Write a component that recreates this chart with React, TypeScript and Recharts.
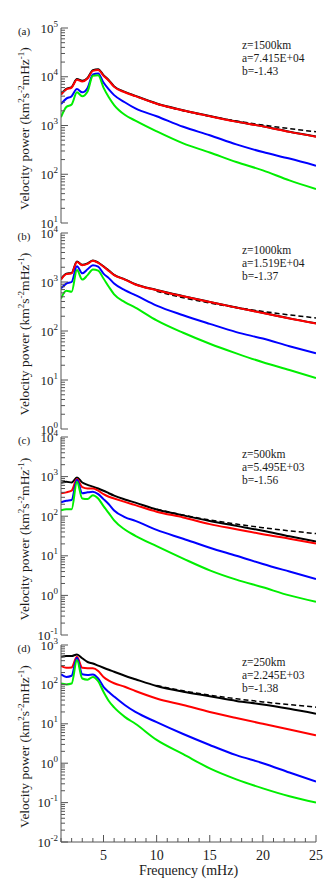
import React from 'react';
import { LineChart, Line, XAxis, YAxis } from 'recharts';

// ---------- data ----------
const freq = [1, 1.5, 2, 2.5, 3, 3.5, 4, 4.5, 5, 5.5, 6, 7, 8, 10, 12.5, 15, 17.5, 20, 22.5, 25];
const fitFreq = [10, 12.5, 15, 17.5, 20, 22.5, 25];

// (a) z=1500km
const aBlack = [4400, 5650, 6150, 8950, 8250, 9450, 13700, 14300, 10800, 8500, 6350, 4900, 4050, 2830, 2060, 1560, 1205, 965, 745, 595];
const aRed = [4300, 5500, 6000, 8700, 8000, 9200, 13200, 13800, 10500, 8300, 6200, 4800, 4000, 2800, 2040, 1550, 1200, 960, 740, 590];
const aBlue = [2750, 3550, 4000, 5600, 4800, 5900, 11200, 11700, 7600, 5500, 4200, 3000, 2240, 1550, 940, 630, 410, 285, 210, 150];
const aGreen = [1480, 2400, 2700, 4800, 4000, 5000, 10500, 10700, 6000, 3800, 2630, 1660, 1260, 760, 430, 280, 178, 120, 75, 50];
const aFit = [2755, 2002, 1542, 1238, 1022, 863, 743];

// (b) z=1000km
const bBlack = [1150, 1480, 1530, 2620, 2240, 2400, 2760, 2500, 2090, 1710, 1400, 1135, 900, 688, 515, 393, 302, 235, 181, 143];
const bRed = [1120, 1450, 1500, 2570, 2200, 2350, 2700, 2450, 2050, 1680, 1380, 1120, 890, 680, 510, 390, 300, 233, 180, 142];
const bBlue = [740, 930, 1000, 2100, 1500, 1820, 2200, 2050, 1480, 1200, 930, 680, 540, 330, 210, 140, 95, 70, 49, 35];
const bGreen = [460, 660, 630, 1750, 1120, 1380, 1800, 1700, 1180, 800, 560, 390, 300, 165, 92, 55, 35, 23, 16, 11];
const bFit = [648, 477, 372, 301, 251, 213, 185];

// (c) z=500km
const cBlack = [700, 740, 710, 950, 710, 620, 560, 500, 440, 380, 330, 265, 220, 148, 105, 76, 57, 43, 31, 23];
const cRed = [380, 400, 440, 870, 540, 500, 500, 440, 360, 310, 280, 230, 190, 130, 93, 63, 47, 35, 27, 20.5];
const cBlue = [225, 245, 257, 830, 380, 400, 415, 360, 270, 200, 140, 95, 76, 45, 27, 16, 10, 6.2, 4, 2.6];
const cGreen = [140, 150, 150, 740, 280, 270, 340, 280, 180, 120, 78, 46, 32, 17.5, 8.5, 4.3, 2.5, 1.6, 1.0, 0.69];
const cFit = [151, 107, 80.4, 63.2, 51.4, 42.7, 36.3];

// (d) z=250km
const dBlack = [500, 525, 525, 575, 460, 370, 340, 300, 265, 235, 210, 166, 135, 91, 65, 50, 38, 31, 24, 18];
const dRed = [295, 263, 270, 500, 263, 257, 257, 220, 155, 125, 107, 87, 68, 44, 30, 20, 14, 10, 7.2, 5.1];
const dBlue = [180, 155, 166, 475, 180, 174, 178, 141, 87, 64, 49, 30, 20, 11, 5.5, 2.9, 1.6, 1.0, 0.58, 0.34];
const dGreen = [105, 100, 105, 415, 141, 132, 155, 120, 65, 38, 26, 15, 10, 3.9, 1.7, 0.74, 0.39, 0.23, 0.145, 0.1];
const dFit = [93.6, 68.8, 53.5, 43.2, 36.0, 30.6, 26.4];

// labels
const panelLabels = ['(a)', '(b)', '(c)', '(d)'];
const zLabels = ['z=1500km', 'z=1000km', 'z=500km', 'z=250km'];
const aLabels = ['a=7.415E+04', 'a=1.519E+04', 'a=5.495E+03', 'a=2.245E+03'];
const bLabels = ['b=-1.43', 'b=-1.37', 'b=-1.56', 'b=-1.38'];
const xMajorTicks = [5, 10, 15, 20, 25];
const xAllTicks = [1, 2, 3, 4, 5, 6, 7, 8, 9, 10, 11, 12, 13, 14, 15, 16, 17, 18, 19, 20, 21, 22, 23, 24, 25];
const yExpRanges = [[1, 5], [0, 4], [-1, 4], [-2, 3]];
const xTitle = 'Frequency (mHz)';

// ---------- styling ----------
const FONT = "'Liberation Serif', 'Times New Roman', serif";
const AXIS = '#555';
const TXT = '#1a1a1a';
const W = 336;
const PLOT_LEFT = 61;
const PLOT_RIGHT = 316;
const panelBoxes = [
  { top: 28, bottom: 223 },
  { top: 233, bottom: 429 },
  { top: 437, bottom: 635 },
  { top: 645, bottom: 842 },
];

const series = [
  [aBlack, aRed, aBlue, aGreen, aFit],
  [bBlack, bRed, bBlue, bGreen, bFit],
  [cBlack, cRed, cBlue, cGreen, cFit],
  [dBlack, dRed, dBlue, dGreen, dFit],
];

function buildRows(s: number[][]) {
  const [k, r, b, g, fit] = s;
  return freq.map((f, i) => {
    const fi = fitFreq.indexOf(f);
    return { f, black: k[i], red: r[i], blue: b[i], green: g[i], fit: fi >= 0 ? fit[fi] : null };
  });
}

function logTicks(lo: number, hi: number) {
  const t: number[] = [];
  for (let e = lo; e <= hi; e++) {
    const base = Math.pow(10, e);
    t.push(Number(base.toPrecision(6)));
    if (e < hi) for (let m = 2; m <= 9; m++) t.push(Number((m * base).toPrecision(6)));
  }
  return t;
}

function isMajor(v: number) {
  const l = Math.log10(v);
  return Math.abs(l - Math.round(l)) < 1e-6;
}

const txtStyle = (size: number) => ({ fontFamily: FONT, fontSize: size, fill: TXT });

const LeftTick = (props: any) => {
  const { x, y, payload } = props;
  const v = payload.value;
  const major = isMajor(v);
  return (
    <g>
      <line x1={x} y1={y} x2={x + (major ? 7 : 4)} y2={y} stroke={AXIS} strokeWidth={1} />
      {major && (
        <text x={x - 3} y={y + 4.5} textAnchor="end" style={txtStyle(13)}>
          10<tspan dy={-6} style={{ fontSize: 9 }}>{String(Math.round(Math.log10(v)))}</tspan>
        </text>
      )}
    </g>
  );
};

const RightTick = (props: any) => {
  const { x, y, payload } = props;
  const major = isMajor(payload.value);
  return <line x1={x} y1={y} x2={x - (major ? 7 : 4)} y2={y} stroke={AXIS} strokeWidth={1} />;
};

const TopTick = (props: any) => {
  const { x, y, payload } = props;
  const major = payload.value % 5 === 0;
  return <line x1={x} y1={y} x2={x} y2={y + (major ? 7 : 4)} stroke={AXIS} strokeWidth={1} />;
};

const makeBottomTick = (showLabels: boolean) => (props: any) => {
  const { x, y, payload } = props;
  const major = xMajorTicks.indexOf(payload.value) >= 0;
  return (
    <g>
      <line x1={x} y1={y} x2={x} y2={y - (major ? 7 : 4)} stroke={AXIS} strokeWidth={1} />
      {showLabels && major && (
        <text x={x} y={y + 18} textAnchor="middle" style={txtStyle(14)}>
          {payload.value}
        </text>
      )}
    </g>
  );
};

const makeYLabel = (idx: number) => (props: any) => {
  const vb = props.viewBox || { x: 0, y: panelBoxes[idx].top, width: PLOT_LEFT, height: panelBoxes[idx].bottom - panelBoxes[idx].top };
  const cy = vb.y + vb.height / 2 + 3;
  const sup = { fontSize: 9 };
  return (
    <g>
      <text transform={`translate(29,${cy}) rotate(-90)`} textAnchor="middle" style={txtStyle(13.5)}>
        Velocity power (km<tspan dy={-5} style={sup}>2</tspan>
        <tspan dy={5}>s</tspan>
        <tspan dy={-5} style={sup}>-2</tspan>
        <tspan dy={5}>mHz</tspan>
        <tspan dy={-5} style={sup}>-1</tspan>
        <tspan dy={5}>)</tspan>
      </text>
      <text x={24} y={vb.y + 6.5} textAnchor="middle" style={txtStyle(11)}>{panelLabels[idx]}</text>
      <text x={242} y={vb.y + 21} style={txtStyle(11.5)}>{zLabels[idx]}</text>
      <text x={242} y={vb.y + 34} style={txtStyle(11.5)}>{aLabels[idx]}</text>
      <text x={242} y={vb.y + 46.5} style={txtStyle(11.5)}>{bLabels[idx]}</text>
    </g>
  );
};

const XTitle = (props: any) => {
  const vb = props.viewBox || { x: PLOT_LEFT, y: 842, width: PLOT_RIGHT - PLOT_LEFT, height: 40 };
  return (
    <text x={vb.x + vb.width / 2} y={vb.y + 33} textAnchor="middle" style={txtStyle(14)}>
      {xTitle}
    </text>
  );
};

function Panel({ idx }: { idx: number }) {
  const box = panelBoxes[idx];
  const isLast = idx === panelBoxes.length - 1;
  const mTop = 14;
  const bottomAxisH = isLast ? 40 : 0;
  const mBottom = isLast ? 10 : 9;
  const plotH = box.bottom - box.top;
  const H = mTop + plotH + bottomAxisH + mBottom;
  const [lo, hi] = yExpRanges[idx];
  const yTicks = logTicks(lo, hi);
  const domain: [number, number] = [Math.pow(10, lo), Math.pow(10, hi)];
  const data = buildRows(series[idx]);
  return (
    <div style={{ position: 'absolute', left: 0, top: box.top - mTop, width: W, height: H }}>
      <LineChart width={W} height={H} data={data} margin={{ top: mTop, right: W - PLOT_RIGHT, bottom: mBottom, left: 0 }}>
        <XAxis
          dataKey="f"
          type="number"
          domain={[1, 25]}
          ticks={xAllTicks}
          interval={0}
          allowDataOverflow
          height={bottomAxisH}
          tickSize={0}
          tickMargin={0}
          tickLine={false}
          axisLine={{ stroke: AXIS, strokeWidth: 1 }}
          tick={makeBottomTick(isLast)}
          label={isLast ? (p: any) => <XTitle {...p} /> : undefined}
        />
        <XAxis
          xAxisId="top"
          orientation="top"
          dataKey="f"
          type="number"
          domain={[1, 25]}
          ticks={xAllTicks}
          interval={0}
          allowDataOverflow
          height={0}
          tickSize={0}
          tickMargin={0}
          tickLine={false}
          axisLine={{ stroke: AXIS, strokeWidth: 1 }}
          tick={(p: any) => <TopTick {...p} />}
        />
        <YAxis
          type="number"
          scale="log"
          domain={domain}
          ticks={yTicks}
          interval={0}
          allowDataOverflow
          width={PLOT_LEFT}
          tickSize={0}
          tickMargin={0}
          tickLine={false}
          axisLine={{ stroke: AXIS, strokeWidth: 1 }}
          tick={(p: any) => <LeftTick {...p} />}
          label={makeYLabel(idx)}
        />
        <YAxis
          yAxisId="right"
          orientation="right"
          type="number"
          scale="log"
          domain={domain}
          ticks={yTicks}
          interval={0}
          allowDataOverflow
          width={0}
          tickSize={0}
          tickMargin={0}
          tickLine={false}
          axisLine={{ stroke: AXIS, strokeWidth: 1 }}
          tick={(p: any) => <RightTick {...p} />}
        />
        <Line type="monotone" dataKey="black" stroke="#000000" strokeWidth={2} dot={false} isAnimationActive={false} />
        <Line type="monotone" dataKey="fit" stroke="#000000" strokeWidth={1.5} strokeDasharray="5 3" dot={false} isAnimationActive={false} />
        <Line type="monotone" dataKey="red" stroke="#ff0000" strokeWidth={2} dot={false} isAnimationActive={false} />
        <Line type="monotone" dataKey="blue" stroke="#0000ff" strokeWidth={2} dot={false} isAnimationActive={false} />
        <Line type="monotone" dataKey="green" stroke="#00ee00" strokeWidth={2} dot={false} isAnimationActive={false} />
      </LineChart>
    </div>
  );
}

export default function App() {
  return (
    <div style={{ position: 'absolute', left: 0, top: 0, width: W, height: 896, background: '#fff' }}>
      {panelBoxes.map((_, i) => (
        <Panel key={i} idx={i} />
      ))}
    </div>
  );
}
